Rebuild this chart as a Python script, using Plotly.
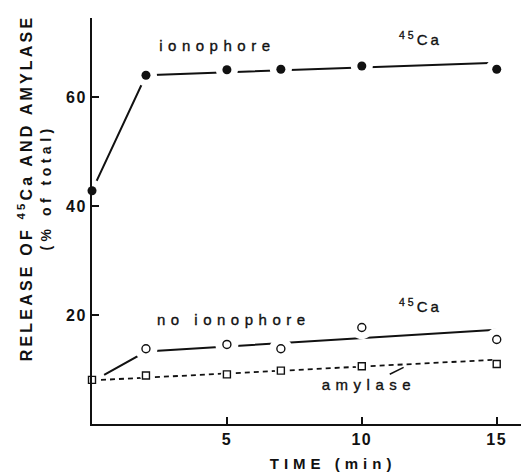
import plotly.graph_objects as go

# ---- data ----
time = [0, 2, 5, 7, 10, 15]
ca_ionophore = [42.8, 64.0, 65.0, 65.1, 65.7, 65.1]
time_no = [2, 5, 7, 10, 15]
ca_no_ionophore = [13.8, 14.6, 13.8, 17.7, 15.5]
amylase = [8.1, 8.9, 9.1, 9.8, 10.6, 11.0]

# hand-drawn fitted curves
fit_time_iono = [0, 2, 15]
fit_iono = [42.8, 64.0, 66.3]
fit_time_no = [0.45, 2, 15]
fit_no = [9.0, 13.3, 17.3]
fit_time_amy = [0, 15]
fit_amy = [8.0, 11.8]

x_ticks = [5, 10, 15]
y_ticks = [20, 40, 60]
X_RANGE = [0, 15.9]
Y_RANGE = [0, 74.5]

FONT = "Liberation Sans, Arial, sans-serif"
BLACK = "#111111"

fig = go.Figure()

# fitted lines (base axes, drawn underneath)
fig.add_trace(go.Scatter(x=fit_time_iono, y=fit_iono, mode="lines",
                         line=dict(color=BLACK, width=2), hoverinfo="skip"))
fig.add_trace(go.Scatter(x=fit_time_no, y=fit_no, mode="lines",
                         line=dict(color=BLACK, width=2), hoverinfo="skip"))
fig.add_trace(go.Scatter(x=fit_time_amy, y=fit_amy, mode="lines",
                         line=dict(color=BLACK, width=1.8, dash="5px,4px"), hoverinfo="skip"))

# white halos (gaps in the lines around the points) on the overlay axes
for xs, ys, sz in [(time, ca_ionophore, 22), (time_no, ca_no_ionophore, 23), (time, amylase, 12)]:
    fig.add_trace(go.Scatter(x=xs, y=ys, mode="markers", cliponaxis=True,
                             xaxis="x2", yaxis="y2",
                             marker=dict(symbol="circle", color="white", size=sz,
                                         line=dict(width=0)),
                             hoverinfo="skip"))

# markers
fig.add_trace(go.Scatter(x=time, y=ca_ionophore, mode="markers", cliponaxis=False,
                         xaxis="x2", yaxis="y2",
                         marker=dict(symbol="circle", color=BLACK, size=9)))
fig.add_trace(go.Scatter(x=time_no, y=ca_no_ionophore, mode="markers", cliponaxis=False,
                         xaxis="x2", yaxis="y2",
                         marker=dict(symbol="circle-open", color=BLACK, size=8,
                                     line=dict(width=1.4, color=BLACK))))
fig.add_trace(go.Scatter(x=time, y=amylase, mode="markers", cliponaxis=False,
                         xaxis="x2", yaxis="y2",
                         marker=dict(symbol="square-open", color=BLACK, size=7,
                                     line=dict(width=1.4, color=BLACK))))

lab_font = dict(family=FONT, size=15, color=BLACK)
annotations = [
    dict(x=4.64, y=69.5, text="ionophore"),
    dict(x=12.2, y=70.7, text="<sup>45</sup>Ca"),
    dict(x=5.27, y=19.1, text="no ionophore"),
    dict(x=12.2, y=21.7, text="<sup>45</sup>Ca"),
    dict(x=10.27, y=7.3, text="amylase"),
]
annotations = [dict(a, xref="x", yref="y", showarrow=False, font=lab_font) for a in annotations]
# leader line from "amylase" to its curve
annotations.append(dict(x=11.55, y=10.4, ax=10.98, ay=9.0, xref="x", yref="y",
                        axref="x", ayref="y", text="", showarrow=True,
                        arrowhead=0, arrowwidth=1.5, arrowcolor=BLACK))
# axis titles
annotations += [
    dict(xref="paper", yref="paper", x=0, y=0.581, xshift=-67, textangle=-90,
         xanchor="center", yanchor="middle",
         text="RELEASE OF <sup>45</sup>Ca AND AMYLASE", showarrow=False,
         font=dict(family=FONT, size=16, color=BLACK, weight="bold")),
    dict(xref="paper", yref="paper", x=0, y=0.583, xshift=-46, textangle=-90,
         xanchor="center", yanchor="middle",
         text="(% of total)", showarrow=False,
         font=dict(family=FONT, size=14, color=BLACK)),
    dict(xref="paper", yref="paper", x=0.561, y=-0.098,
         xanchor="center", yanchor="middle",
         text="TIME (min)", showarrow=False,
         font=dict(family=FONT, size=15, color=BLACK)),
]

axis_common = dict(showline=True, linecolor=BLACK, linewidth=2, showgrid=False,
                   zeroline=False, ticks="inside", ticklen=7, tickwidth=1.5,
                   tickcolor=BLACK,
                   tickfont=dict(family=FONT, size=16, color=BLACK, weight="bold"))

fig.update_layout(
    width=521, height=472,
    margin=dict(l=92, r=0, t=18, b=48),
    paper_bgcolor="white", plot_bgcolor="white",
    showlegend=False,
    annotations=annotations,
    xaxis=dict(range=X_RANGE, tickvals=x_ticks, **axis_common),
    yaxis=dict(range=Y_RANGE, tickvals=y_ticks, **axis_common),
    xaxis2=dict(range=X_RANGE, overlaying="x", visible=False),
    yaxis2=dict(range=Y_RANGE, overlaying="y", visible=False),
)

post = """
document.body.style.margin = '0';
document.body.style.overflow = 'hidden';
var gd = document.getElementById('{plot_id}');
gd.querySelectorAll('text.annotation-text').forEach(function(t){
  var s = t.textContent;
  if (s.indexOf('RELEASE') >= 0) t.style.letterSpacing = '3.2px';
  else if (s.indexOf('total') >= 0) { t.style.letterSpacing = '4.5px'; t.style.fontWeight = '600'; }
  else if (s.indexOf('TIME') >= 0) { t.style.letterSpacing = '5px'; t.style.fontWeight = '600'; }
  else {
    t.style.letterSpacing = (s.indexOf('Ca') >= 0) ? '3px' : '5.5px';
    t.style.stroke = '#111111';
    t.style.strokeWidth = '0.35px';
  }
});
gd.querySelectorAll('g.xtick text, g.ytick text').forEach(function(t){
  t.style.letterSpacing = '1.5px';
  t.style.fontWeight = 'bold';
});
"""

fig.write_html("out.html", post_script=post, config={"displayModeBar": False})
